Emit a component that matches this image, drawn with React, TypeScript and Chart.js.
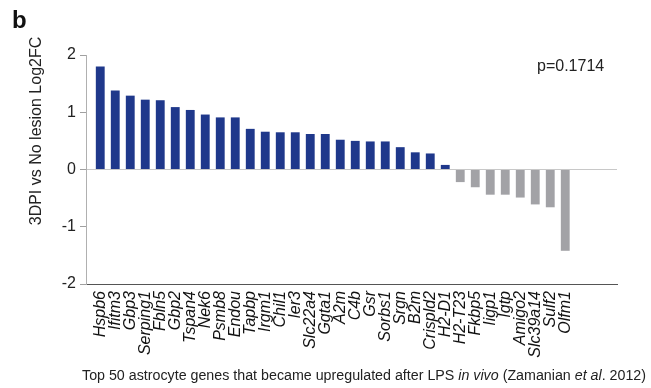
import React, { useEffect, useRef } from "react";
import { Chart, registerables } from "chart.js";

Chart.register(...registerables);

const GENES = [
  "Hspb6", "Ifitm3", "Gbp3", "Serping1", "Fbln5", "Gbp2", "Tspan4", "Nek6",
  "Psmb8", "Endou", "Tapbp", "Irgm1", "Chil1", "Ier3", "Slc22a4", "Ggta1",
  "A2m", "C4b", "Gsr", "Sorbs1", "Srgn", "B2m", "Crispld2", "H2-D1",
  "H2-T23", "Fkbp5", "Iigp1", "Igtp", "Amigo2", "Slc39a14", "Sulf2", "Olfm1",
];

const LOG2FC = [
  1.8, 1.38, 1.29, 1.22, 1.21, 1.09, 1.04, 0.96,
  0.91, 0.91, 0.71, 0.66, 0.65, 0.65, 0.62, 0.62,
  0.52, 0.5, 0.49, 0.49, 0.39, 0.3, 0.28, 0.08,
  -0.22, -0.31, -0.44, -0.44, -0.49, -0.61, -0.66, -1.42,
];

const Y_TICKS = [-2, -1, 0, 1, 2];
const PANEL_LABEL = "b";
const P_VALUE_TEXT = "p=0.1714";
const Y_TITLE = "3DPI vs No lesion Log2FC";
const CAPTION_PARTS: [string, boolean][] = [
  ["Top 50 astrocyte genes that became upregulated after LPS ", false],
  ["in vivo", true],
  [" (Zamanian ", false],
  ["et al", true],
  [". 2012)", false],
];

const FONT = "'Liberation Sans', Arial, Helvetica, sans-serif";
const BLUE = "#1f388b";
const GREY = "#a2a2a6";

const textPlugin = {
  id: "extraText",
  afterDraw(chart: Chart) {
    const ctx = chart.ctx;
    ctx.save();
    ctx.fillStyle = "#111";
    ctx.textBaseline = "alphabetic";
    ctx.textAlign = "left";
    ctx.font = `bold 24px ${FONT}`;
    ctx.fillText(PANEL_LABEL, 12, 28);

    ctx.font = `16px ${FONT}`;
    ctx.fillStyle = "#222";
    ctx.fillText(P_VALUE_TEXT, 537, 71);

    ctx.save();
    ctx.translate(37, 131);
    ctx.rotate(-Math.PI / 2);
    ctx.textAlign = "center";
    ctx.textBaseline = "middle";
    ctx.font = `16px ${FONT}`;
    ctx.fillText(Y_TITLE, 0, 0);
    ctx.restore();

    let x = 82;
    ctx.fillStyle = "#222";
    for (const [t, it] of CAPTION_PARTS) {
      ctx.font = `${it ? "italic " : ""}14.25px ${FONT}`;
      ctx.fillText(t, x, 380);
      x += ctx.measureText(t).width;
    }
    ctx.restore();
  },
};

export default function App() {
  const ref = useRef<HTMLCanvasElement | null>(null);
  useEffect(() => {
    if (!ref.current) return;
    const chart = new Chart(ref.current, {
      type: "bar",
      data: {
        datasets: [
          {
            data: LOG2FC.map((v, i) => ({ x: i, y: v })),
            backgroundColor: LOG2FC.map((v) => (v >= 0 ? BLUE : GREY)),
            borderWidth: 0,
            barPercentage: 0.59,
            categoryPercentage: 1,
          },
        ],
      },
      options: {
        responsive: false,
        animation: false,
        devicePixelRatio: 1,
        layout: { padding: { left: 0, top: 55, right: 34, bottom: 0 } },
        plugins: { legend: { display: false }, tooltip: { enabled: false } },
        scales: {
          x: {
            type: "linear",
            offset: false,
            min: -0.95,
            max: 34.45,
            grid: { display: false, drawTicks: false, offset: false },
            border: { display: true, color: "#555", width: 1 },
            ticks: {
              stepSize: 1,
              includeBounds: false,
              autoSkip: false,
              minRotation: 90,
              maxRotation: 90,
              padding: 7,
              color: "#111",
              font: { family: FONT, size: 16, style: "italic" },
              callback: (v: any) =>
                Number.isInteger(v) && GENES[v] !== undefined ? GENES[v] : "",
            },
            afterFit: (s: any) => {
              s.height = 104;
            },
          },
          y: {
            min: Y_TICKS[0],
            max: Y_TICKS[Y_TICKS.length - 1],
            afterBuildTicks: (s: any) => {
              s.ticks = Y_TICKS.map((v) => ({ value: v }));
            },
            ticks: {
              padding: 4,
              color: "#222",
              font: { family: FONT, size: 16 },
            },
            grid: {
              color: (c: any) =>
                c.tick && c.tick.value === 0 ? "#c8c8c8" : "rgba(0,0,0,0)",
              tickColor: "#a0a0a0",
              tickLength: 6,
            },
            border: { display: true, color: "#b0b0b0" },
            afterFit: (s: any) => {
              s.width = 86;
            },
          },
        },
      },
      plugins: [textPlugin],
    });
    return () => chart.destroy();
  }, []);
  return (
    <div style={{ position: "fixed", left: 0, top: 0, width: 651, height: 388, background: "#fff" }}>
      <canvas ref={ref} width={651} height={388} style={{ display: "block" }} />
    </div>
  );
}
